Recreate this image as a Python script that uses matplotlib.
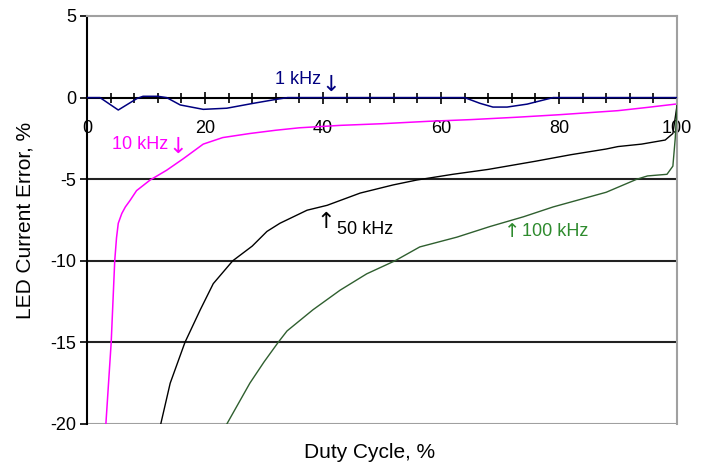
import numpy as np
import matplotlib.pyplot as plt
from matplotlib.ticker import MultipleLocator

# -----------------------------------------------------------------------------
# donnees (Duty cycle %, erreur %)
x_1k = [0, 2.2, 5.3, 8.5, 9.5, 12, 13.5, 15.8, 19.7, 23.7, 28.2, 32.2, 34, 64, 66.6, 68.8, 71.2, 74.6, 76.8, 79, 100]
y_1k = [0, 0, -0.76, -0.05, 0.08, 0.08, 0, -0.45, -0.72, -0.65, -0.35, -0.1, 0, 0, -0.35, -0.58, -0.58, -0.4, -0.2, 0, 0]

x_10k = [3.2, 4.1, 4.7, 5.0, 5.3, 5.9, 6.5, 7.3, 8.4, 10.7, 13.5, 16.3, 19.7, 23, 27.6, 32, 36, 43, 50, 58, 65, 73, 80, 84, 90, 95, 99.7]
y_10k = [-20, -15, -10, -8.6, -7.7, -7.1, -6.7, -6.3, -5.7, -5.05, -4.45, -3.75, -2.85, -2.45, -2.2, -2.0, -1.85, -1.7, -1.6, -1.45, -1.35, -1.2, -1.05, -0.95, -0.8, -0.6, -0.4]

x_50k = [12.5, 14.1, 16.6, 19.2, 21.4, 24.7, 28, 30.5, 32.7, 37.3, 40.7, 46.3, 51.9, 55.9, 62, 68, 76, 82, 88, 90, 94, 98, 99.3, 100]
y_50k = [-20, -17.5, -15, -13, -11.4, -10, -9.1, -8.2, -7.7, -6.9, -6.6, -5.85, -5.35, -5.05, -4.7, -4.4, -3.9, -3.5, -3.15, -3.0, -2.85, -2.6, -2.2, -0.5]

x_100k = [23.7, 27.6, 30, 32.4, 33.9, 38.3, 42.9, 47.4, 52.2, 56.4, 62.7, 68.3, 74, 79, 84, 88, 93.2, 95, 98.3, 99.3, 99.7, 100]
y_100k = [-20, -17.5, -16.2, -15, -14.3, -13, -11.8, -10.8, -10, -9.15, -8.55, -7.9, -7.3, -6.7, -6.2, -5.8, -5.0, -4.8, -4.7, -4.2, -2.5, -0.5]

y_ticks = [-20, -15, -10, -5, 0, 5]
x_ticks = [0, 20, 40, 60, 80, 100]

plt.rcParams['font.family'] = ['Liberation Sans', 'DejaVu Sans']
plt.rcParams['axes.unicode_minus'] = False


def main():
  fig = plt.figure(figsize=(7.04, 4.70), dpi=100)
  ax = fig.add_axes([87/704, 46/470, 590/704, 408/470])

  ax.set_xlim(0, 100)
  ax.set_ylim(-20, 5)

  # grille horizontale
  for yv in [-5, -10, -15]:
    ax.axhline(yv, color="#222222", lw=1.5, zorder=1)
  ax.axhline(-20, color="#a0a0a0", lw=1.5, zorder=1)

  ax.plot(x_1k, y_1k, c="#000080", lw=1.1, zorder=3)
  ax.plot(x_10k, y_10k, c="#ff00ff", lw=1.1, zorder=3)
  ax.plot(x_50k, y_50k, c="black", lw=1.0, zorder=3)
  ax.plot(x_100k, y_100k, c="#2f5f2f", lw=1.0, zorder=3)

  # axes
  ax.spines['bottom'].set_position(('data', 0))
  ax.spines['bottom'].set_color("black")
  ax.spines['bottom'].set_linewidth(1.5)
  ax.spines['bottom'].set_zorder(2)
  ax.spines['left'].set_color("black")
  ax.spines['left'].set_linewidth(1.5)
  for s in ['top', 'right']:
    ax.spines[s].set_color("#a0a0a0")
    ax.spines[s].set_linewidth(1.5)

  ax.set_xticks(x_ticks)
  ax.xaxis.set_minor_locator(MultipleLocator(4))
  ax.set_yticks(y_ticks)
  ax.tick_params(axis='x', which='both', direction='inout', length=8, width=1.2,
                 pad=12, labelsize=13)
  ax.tick_params(axis='x', which='minor', length=7)
  ax.tick_params(axis='y', direction='out', length=5, width=1.2, labelsize=13, pad=3)

  # annotations (fleches en DejaVu, plus grandes)
  arrow_font = ['DejaVu Sans']
  ax.text(31.8, 1.1, "1 kHz", color="#000080", fontsize=13, va="center", ha="left")
  ax.text(41.3, 0.75, "\u2193", color="#000080", fontsize=16, va="center", ha="center", family=arrow_font)
  ax.text(4.2, -2.9, "10 kHz", color="#ff00ff", fontsize=13, va="center", ha="left")
  ax.text(15.4, -3.05, "\u2193", color="#ff00ff", fontsize=16, va="center", ha="center", family=arrow_font)
  ax.text(40.5, -7.6, "\u2191", color="black", fontsize=16, va="center", ha="center", family=arrow_font)
  ax.text(42.3, -8.1, "50 kHz", color="black", fontsize=13, va="center", ha="left")
  ax.text(72.1, -8.2, "\u2191", color="#2e8b2e", fontsize=14, va="center", ha="center", family=arrow_font)
  ax.text(73.7, -8.2, "100 kHz", color="#2e8b2e", fontsize=13, va="center", ha="left")

  fig.text(25/704, 1 - 220/470, "LED Current Error, %", rotation=90,
           fontsize=15, ha="center", va="center")
  fig.text(370/704, 1 - 453/470, "Duty Cycle, %", fontsize=15, ha="center", va="center")

  fig.savefig("out.png", dpi=100)


if __name__ == '__main__':
  main()
